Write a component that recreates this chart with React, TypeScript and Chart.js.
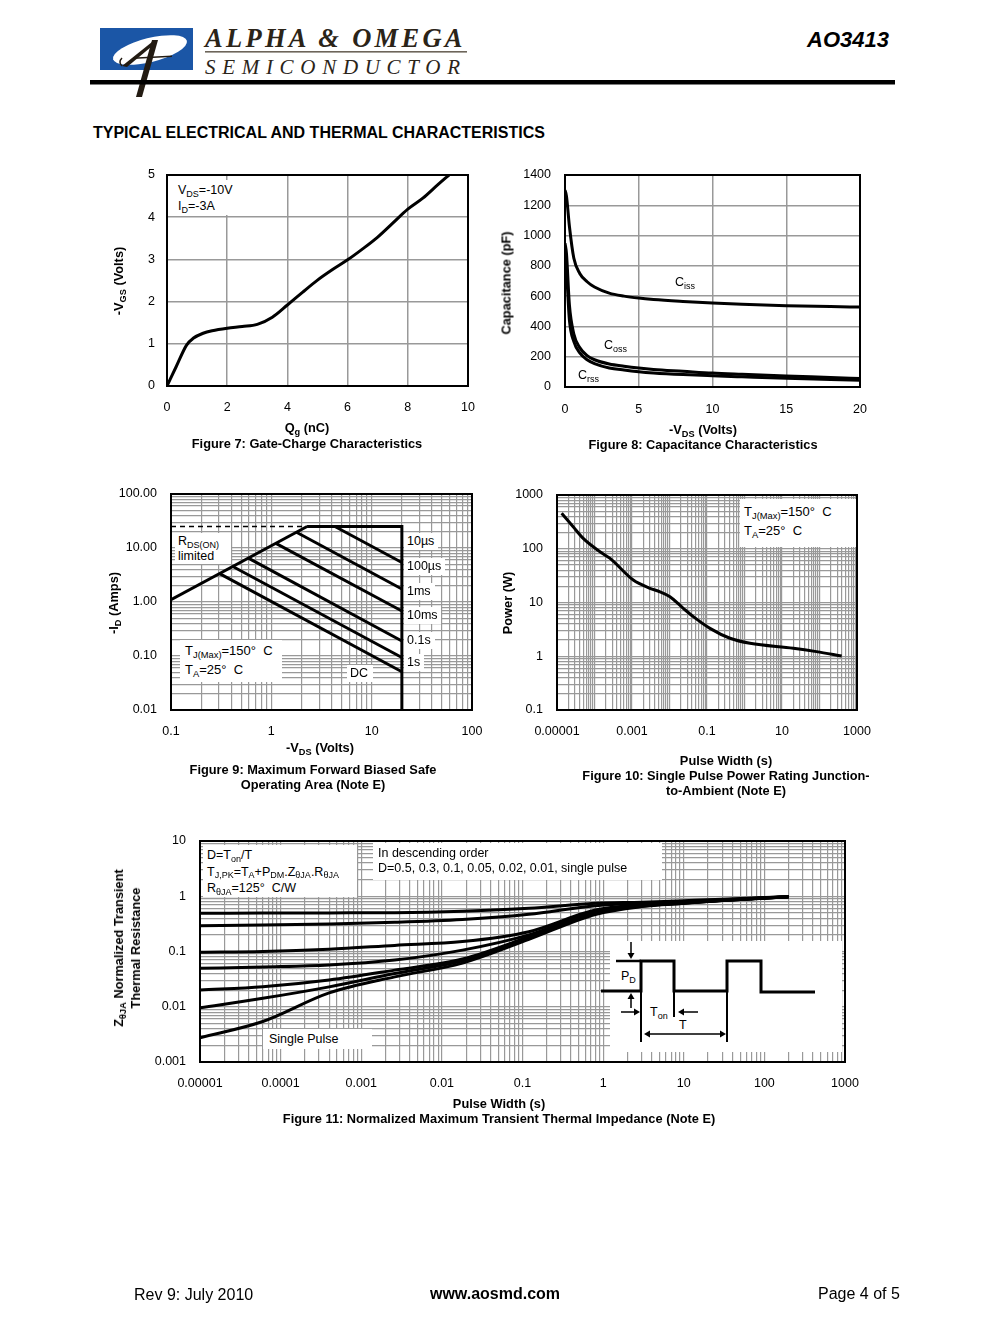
import React, { useEffect, useRef } from 'react';
import { Chart, registerables } from 'chart.js';

Chart.register(...registerables);

const FONT = '"Liberation Sans", Arial, Helvetica, sans-serif';
const SERIF = '"Liberation Serif", "Times New Roman", serif';

// ---------- Figure 7: Gate charge ----------
const gcCharge = [0, 0.3, 0.65, 0.87, 1.2, 1.5, 2.0, 2.5, 3.0, 3.5, 4.0, 4.5, 5.0, 5.5, 6.0, 6.5, 7.0, 7.5, 8.0, 8.5, 9.0, 9.37];
const gcVgs = [0, 0.45, 0.97, 1.13, 1.25, 1.31, 1.37, 1.41, 1.46, 1.63, 1.92, 2.22, 2.51, 2.76, 2.99, 3.25, 3.53, 3.86, 4.19, 4.45, 4.77, 5.0];
const gcXTicks = [0, 2, 4, 6, 8, 10];
const gcYTicks = [0, 1, 2, 3, 4, 5];

// ---------- Figure 8: Capacitance ----------
const capVds = [0, 0.1, 0.3, 0.6, 1, 1.5, 2, 3, 4, 5, 6, 8, 10, 12, 15, 18, 20];
const capCiss = [1300, 1260, 1060, 850, 750, 695, 660, 620, 600, 587, 578, 565, 554, 546, 537, 531, 528];
const capCoss = [950, 880, 540, 350, 260, 207, 180, 152, 137, 125, 116, 104, 92, 84, 73, 63, 56];
const capCrss = [820, 760, 440, 300, 225, 180, 155, 126, 112, 101, 93, 82, 74, 67, 57, 50, 45];
const capXTicks = [0, 5, 10, 15, 20];
const capYTicks = [0, 200, 400, 600, 800, 1000, 1200, 1400];

// ---------- Figure 9: Safe operating area ----------
const soaXTicks = [0.1, 1, 10, 100];
const soaXLabels = ['0.1', '1', '10', '100'];
const soaYTicks = [0.01, 0.1, 1, 10, 100];
const soaYLabels = ['0.01', '0.10', '1.00', '10.00', '100.00'];
const soaRdsLimit = [{ x: 0.1, y: 1.1 }, { x: 2.27, y: 25 }];
const soaRdsDashed = [{ x: 0.1, y: 25 }, { x: 2.27, y: 25 }];
const soaOuterLimit = [{ x: 2.27, y: 25 }, { x: 20, y: 25 }, { x: 20, y: 0.01 }];
const soa10us = [{ x: 4.3, y: 25 }, { x: 20, y: 5.4 }];
const soa100us = [{ x: 1.78, y: 19.6 }, { x: 20, y: 1.74 }];
const soa1ms = [{ x: 1.11, y: 12.2 }, { x: 20, y: 0.68 }];
const soa10ms = [{ x: 0.59, y: 6.5 }, { x: 20, y: 0.19 }];
const soa100ms = [{ x: 0.413, y: 4.55 }, { x: 20, y: 0.094 }];
const soa1s = [{ x: 0.305, y: 3.35 }, { x: 20, y: 0.051 }];

// ---------- Figure 10: Single pulse power ----------
const sppWidth = [1.33e-5, 2.7e-5, 5e-5, 1.4e-4, 2.6e-4, 1.08e-3, 3e-3, 5.6e-3, 0.0103, 0.0233, 0.0432, 0.12, 0.41, 1.4, 20, 83, 390];
const sppPower = [457, 257, 156, 88, 66, 26.2, 18.4, 15.8, 12.8, 7.8, 5.45, 3.3, 2.16, 1.74, 1.41, 1.22, 1.01];
const sppXTicks = [1e-5, 1e-3, 0.1, 10, 1000];
const sppXLabels = ['0.00001', '0.001', '0.1', '10', '1000'];
const sppYTicks = [0.1, 1, 10, 100, 1000];
const sppYLabels = ['0.1', '1', '10', '100', '1000'];

// ---------- Figure 11: Transient thermal impedance ----------
const ztWidth = [0.00001, 0.00006, 0.0004, 0.0026, 0.018, 0.12, 0.8, 3, 10, 30, 100, 200];
const ztD05 = [0.49, 0.495, 0.5, 0.505, 0.537, 0.605, 0.745, 0.78, 0.83, 0.88, 0.95, 0.98];
const ztD03 = [0.293, 0.302, 0.316, 0.338, 0.38, 0.471, 0.675, 0.74, 0.8, 0.86, 0.94, 0.98];
const ztD01 = [0.097, 0.1, 0.11, 0.129, 0.151, 0.228, 0.562, 0.7, 0.77, 0.85, 0.93, 0.98];
const ztD005 = [0.0495, 0.0525, 0.057, 0.07, 0.106, 0.2, 0.525, 0.68, 0.76, 0.845, 0.93, 0.98];
const ztD002 = [0.02, 0.023, 0.0305, 0.046, 0.073, 0.185, 0.513, 0.67, 0.755, 0.84, 0.925, 0.98];
const ztD001 = [0.0096, 0.0142, 0.0229, 0.04, 0.068, 0.178, 0.49, 0.66, 0.75, 0.84, 0.925, 0.98];
const ztSingle = [0.00275, 0.0054, 0.0178, 0.0347, 0.0617, 0.166, 0.468, 0.65, 0.745, 0.835, 0.92, 0.98];
const ztXTicks = [1e-5, 1e-4, 1e-3, 0.01, 0.1, 1, 10, 100, 1000];
const ztXLabels = ['0.00001', '0.0001', '0.001', '0.01', '0.1', '1', '10', '100', '1000'];
const ztYTicks = [0.001, 0.01, 0.1, 1, 10];
const ztYLabels = ['0.001', '0.01', '0.1', '1', '10'];

// ---------- helpers ----------
const AXIS_W = 70;
const AXIS_H = 36;
const PAD_T = 12;
const PAD_R = 34;

function logGrid(minExp: number, maxExp: number): number[] {
  const out: number[] = [];
  for (let e = minExp; e < maxExp; e++) {
    for (let m = 1; m < 10; m++) out.push(Number((m * Math.pow(10, e)).toPrecision(4)));
  }
  out.push(Math.pow(10, maxExp));
  return out;
}

function pts(xs: number[], ys: number[]) {
  return xs.map((x, i) => ({ x, y: ys[i] }));
}

function axisOpts(
  kind: 'x' | 'y',
  type: 'linear' | 'logarithmic',
  min: number,
  max: number,
  gridValues: number[],
  labelValues: number[],
  labelTexts: string[],
  pad: number,
  gridWidth = 1.2,
) {
  return {
    type,
    min,
    max,
    position: kind === 'x' ? 'bottom' : 'left',
    afterBuildTicks: (s: any) => {
      s.ticks = gridValues.map((v) => ({ value: v }));
    },
    afterFit: (s: any) => {
      if (kind === 'x') s.height = AXIS_H;
      else s.width = AXIS_W;
      s.paddingTop = 0;
      s.paddingBottom = 0;
      s.paddingLeft = 0;
      s.paddingRight = 0;
    },
    grid: { color: '#999999', lineWidth: gridWidth, drawTicks: false },
    border: { display: false },
    ticks: {
      autoSkip: false,
      maxRotation: 0,
      minRotation: 0,
      padding: pad,
      color: '#000',
      font: { family: FONT, size: 12.5 },
      callback: (v: any) => {
        const n = Number(v);
        const i = labelValues.findIndex((t) => Math.abs(t - n) <= Math.abs(t) * 1e-6 + 1e-12);
        return i >= 0 ? labelTexts[i] : '';
      },
    },
  };
}

const framePlugin = {
  id: 'frame',
  afterDatasetsDraw(chart: any) {
    const { ctx, chartArea } = chart;
    ctx.save();
    ctx.strokeStyle = '#000';
    ctx.lineWidth = 2;
    ctx.strokeRect(chartArea.left, chartArea.top, chartArea.right - chartArea.left, chartArea.bottom - chartArea.top);
    ctx.restore();
  },
};

function ds(data: any[], width = 3, extra: any = {}) {
  return { data, borderColor: '#000', backgroundColor: '#000', borderWidth: width, pointRadius: 0, fill: false, tension: 0, ...extra };
}
const smooth = { cubicInterpolationMode: 'monotone' };

function baseOptions(x: any, y: any) {
  return {
    responsive: false,
    animation: false,
    events: [],
    layout: { padding: { left: 0, top: PAD_T, right: PAD_R, bottom: 0 } },
    plugins: { legend: { display: false }, tooltip: { enabled: false }, title: { display: false } },
    scales: { x, y },
  };
}

function Plot({ x, y, w, h, make }: { x: number; y: number; w: number; h: number; make: () => any }) {
  const ref = useRef<HTMLCanvasElement>(null);
  const W = w + AXIS_W + PAD_R;
  const H = h + PAD_T + AXIS_H;
  useEffect(() => {
    const cfg = make();
    cfg.plugins = [framePlugin];
    const chart = new Chart(ref.current as HTMLCanvasElement, cfg);
    return () => chart.destroy();
  }, []);
  return (
    <canvas
      ref={ref}
      width={W}
      height={H}
      style={{ position: 'absolute', left: x - AXIS_W, top: y - PAD_T, width: W, height: H }}
    />
  );
}

// ---------- chart configs ----------
const fig7 = () => ({
  type: 'line',
  data: { datasets: [ds(pts(gcCharge, gcVgs), 3, smooth)] },
  options: baseOptions(
    axisOpts('x', 'linear', 0, 10, gcXTicks, gcXTicks, gcXTicks.map(String), 14, 1.5),
    axisOpts('y', 'linear', 0, 5, gcYTicks, gcYTicks, gcYTicks.map(String), 12, 1.5),
  ),
});

const fig8 = () => ({
  type: 'line',
  data: {
    datasets: [
      ds(pts(capVds, capCiss), 3, smooth),
      ds(pts(capVds, capCoss), 3, smooth),
      ds(pts(capVds, capCrss), 3, smooth),
    ],
  },
  options: baseOptions(
    axisOpts('x', 'linear', 0, 20, capXTicks, capXTicks, capXTicks.map(String), 15, 1.5),
    axisOpts('y', 'linear', 0, 1400, capYTicks, capYTicks, capYTicks.map(String), 14, 1.5),
  ),
});

const fig9 = () => ({
  type: 'line',
  data: {
    datasets: [
      ds(soaRdsDashed, 1.5, { borderDash: [5, 4] }),
      ds(soaRdsLimit, 3),
      ds(soaOuterLimit, 3),
      ds(soa10us, 3),
      ds(soa100us, 3),
      ds(soa1ms, 3),
      ds(soa10ms, 3),
      ds(soa100ms, 3),
      ds(soa1s, 3),
    ],
  },
  options: baseOptions(
    axisOpts('x', 'logarithmic', 0.1, 100, logGrid(-1, 2), soaXTicks, soaXLabels, 14),
    axisOpts('y', 'logarithmic', 0.01, 100, logGrid(-2, 2), soaYTicks, soaYLabels, 14),
  ),
});

const fig10 = () => ({
  type: 'line',
  data: { datasets: [ds(pts(sppWidth, sppPower), 3, smooth)] },
  options: baseOptions(
    axisOpts('x', 'logarithmic', 1e-5, 1000, logGrid(-5, 3), sppXTicks, sppXLabels, 14),
    axisOpts('y', 'logarithmic', 0.1, 1000, logGrid(-1, 3), sppYTicks, sppYLabels, 14),
  ),
});

const fig11 = () => ({
  type: 'line',
  data: {
    datasets: [ztD05, ztD03, ztD01, ztD005, ztD002, ztD001, ztSingle].map((s) => ds(pts(ztWidth, s), 3, smooth)),
  },
  options: baseOptions(
    axisOpts('x', 'logarithmic', 1e-5, 1000, logGrid(-5, 3), ztXTicks, ztXLabels, 14),
    axisOpts('y', 'logarithmic', 0.001, 10, logGrid(-3, 1), ztYTicks, ztYLabels, 14),
  ),
});

// ---------- text helpers ----------
const S = ({ children }: { children: any }) => (
  <span style={{ fontSize: '0.72em', position: 'relative', top: '0.32em' }}>{children}</span>
);

function C({ x, y, children, bold = true, size = 12.8, rot = false, style = {} }: any) {
  return (
    <div
      style={{
        position: 'absolute',
        left: x,
        top: y,
        transform: rot ? 'translate(-50%,-50%) rotate(-90deg)' : 'translate(-50%,-50%)',
        whiteSpace: 'nowrap',
        fontWeight: bold ? 'bold' : 'normal',
        fontSize: size,
        lineHeight: '15px',
        textAlign: 'center',
        ...style,
      }}
    >
      {children}
    </div>
  );
}

function L({ x, y, children, size = 12.5, bold = false, style = {} }: any) {
  return (
    <div
      style={{
        position: 'absolute',
        left: x,
        top: y,
        transform: 'translateY(-50%)',
        whiteSpace: 'nowrap',
        fontSize: size,
        fontWeight: bold ? 'bold' : 'normal',
        lineHeight: '15px',
        ...style,
      }}
    >
      {children}
    </div>
  );
}

function Box({ x, y, w, h, pl = 4, pt = 2, lh = 15, size = 12.5, children }: any) {
  return (
    <div
      style={{
        position: 'absolute',
        left: x,
        top: y,
        width: w,
        height: h,
        background: '#fff',
        boxSizing: 'border-box',
        paddingLeft: pl,
        paddingTop: pt,
        lineHeight: lh + 'px',
        fontSize: size,
        whiteSpace: 'nowrap',
      }}
    >
      {children}
    </div>
  );
}

function Tag({ x, y, w, children }: any) {
  return (
    <div
      style={{
        position: 'absolute',
        left: x,
        top: y - 8,
        width: w,
        height: 17,
        lineHeight: '17px',
        background: '#fff',
        paddingLeft: 3,
        boxSizing: 'border-box',
        fontSize: 12.5,
        whiteSpace: 'nowrap',
      }}
    >
      {children}
    </div>
  );
}

export default function App() {
  return (
    <div
      style={{
        position: 'absolute',
        left: 0,
        top: 0,
        width: 991,
        height: 1339,
        background: '#fff',
        overflow: 'hidden',
        fontFamily: FONT,
        color: '#000',
      }}
    >
      {/* Header graphics */}
      <svg width={991} height={110} style={{ position: 'absolute', left: 0, top: 0 }}>
        <defs>
          <clipPath id="logoClip">
            <rect x={100} y={28} width={93} height={42} />
          </clipPath>
        </defs>
        <rect x={100} y={28} width={93} height={42} fill="#1b56a6" />
        <ellipse cx={150} cy={50} rx={38} ry={12} transform="rotate(-14 150 50)" fill="#fff" clipPath="url(#logoClip)" />
        <path d="M122 66 L152 42 L157 42 L127 67 Z" fill="#231b12" />
        <path d="M152 40 L158 40 L142 97 L136 97 Z" fill="#231b12" />
        <path d="M133 57.5 L172 55.5 L172 57 L133 59 Z" fill="#231b12" />
        <path d="M122 66 Q118 62 122 58" stroke="#231b12" strokeWidth={1.5} fill="none" />
        <rect x={205} y={51} width={262} height={1.6} fill="#6d655a" />
        <rect x={90} y={80} width={805} height={4.5} fill="#000" />
      </svg>
      <div
        style={{
          position: 'absolute',
          left: 205,
          top: 23,
          fontFamily: SERIF,
          fontStyle: 'italic',
          fontWeight: 'bold',
          fontSize: 26.5,
          letterSpacing: 3.3,
          color: '#2b2418',
          whiteSpace: 'nowrap',
        }}
      >
        ALPHA &amp; OMEGA
      </div>
      <div
        style={{
          position: 'absolute',
          left: 205,
          top: 55,
          fontFamily: SERIF,
          fontStyle: 'italic',
          fontSize: 21,
          letterSpacing: 6.7,
          color: '#2b2418',
          whiteSpace: 'nowrap',
        }}
      >
        SEMICONDUCTOR
      </div>
      <L x={807} y={40} size={22} bold style={{ fontStyle: 'italic', lineHeight: '24px' }}>
        AO3413
      </L>
      <L x={93} y={132} size={16} bold>
        TYPICAL ELECTRICAL AND THERMAL CHARACTERISTICS
      </L>

      {/* Charts */}
      <Plot x={167} y={175} w={301} h={211} make={fig7} />
      <Plot x={565} y={175} w={295} h={212} make={fig8} />
      <Plot x={171} y={494} w={301} h={216} make={fig9} />
      <Plot x={557} y={495} w={300} h={215} make={fig10} />
      <Plot x={200} y={841} w={645} h={221} make={fig11} />

      {/* Figure 7 text */}
      <Box x={170} y={180} w={65} h={35} pl={8} pt={3}>
        V<S>DS</S>=-10V
        <br />
        I<S>D</S>=-3A
      </Box>
      <C x={119} y={281} rot>
        -V<S>GS</S> (Volts)
      </C>
      <C x={307} y={428}>
        Q<S>g</S> (nC)
      </C>
      <C x={307} y={443}>Figure 7: Gate-Charge Characteristics</C>

      {/* Figure 8 text */}
      <L x={675} y={283}>
        C<S>iss</S>
      </L>
      <L x={604} y={346}>
        C<S>oss</S>
      </L>
      <L x={578} y={376}>
        C<S>rss</S>
      </L>
      <C x={506} y={283} rot>
        Capacitance (pF)
      </C>
      <C x={703} y={430}>
        -V<S>DS</S> (Volts)
      </C>
      <C x={703} y={444}>Figure 8: Capacitance Characteristics</C>

      {/* Figure 9 text */}
      <Box x={175} y={533} w={56} h={31} pl={3} pt={1} lh={14}>
        R<S>DS(ON)</S>
        <br />
        limited
      </Box>
      <Box x={180} y={640} w={102} h={42} pl={5} pt={2} lh={17} size={13}>
        T<S>J(Max)</S>=150° &nbsp;C
        <br />
        T<S>A</S>=25° &nbsp;C
      </Box>
      <Tag x={404} y={541} w={34}>10µs</Tag>
      <Tag x={404} y={566} w={41}>100µs</Tag>
      <Tag x={404} y={591} w={31}>1ms</Tag>
      <Tag x={404} y={615} w={37}>10ms</Tag>
      <Tag x={404} y={640} w={31}>0.1s</Tag>
      <Tag x={404} y={662} w={20}>1s</Tag>
      <Tag x={347} y={673} w={26}>DC</Tag>
      <C x={114} y={603} rot>
        -I<S>D</S> (Amps)
      </C>
      <C x={320} y={748}>
        -V<S>DS</S> (Volts)
      </C>
      <C x={313} y={769}>Figure 9: Maximum Forward Biased Safe</C>
      <C x={313} y={784}>Operating Area (Note E)</C>

      {/* Figure 10 text */}
      <Box x={740} y={499} w={116} h={48} pl={4} pt={4} lh={17} size={13}>
        T<S>J(Max)</S>=150° &nbsp;C
        <br />
        T<S>A</S>=25° &nbsp;C
      </Box>
      <C x={507} y={603} rot>
        Power (W)
      </C>
      <C x={726} y={760}>Pulse Width (s)</C>
      <C x={726} y={775}>Figure 10: Single Pulse Power Rating Junction-</C>
      <C x={726} y={790}>to-Ambient (Note E)</C>

      {/* Figure 11 inset diagram */}
      <svg width={991} height={1339} style={{ position: 'absolute', left: 0, top: 0, pointerEvents: 'none' }}>
        <rect x={610} y={941} width={232} height={111} fill="#fff" />
        <path d="M601 991 H641 V961 H674 V991 H727 V961 H761 V992 H815" stroke="#000" strokeWidth={3} fill="none" />
        <path d="M616 961 H641" stroke="#000" strokeWidth={2.5} fill="none" />
        <path d="M641 991 V1042 M674 991 V1017 M727 991 V1042" stroke="#000" strokeWidth={2} fill="none" />
        <path d="M631 942 V954 M631 1008 V998 M621 1012 H635 M698 1012 H683 M649 1034 H721" stroke="#000" strokeWidth={1.5} fill="none" />
        <path d="M627.5 953 L634.5 953 L631 959 Z" fill="#000" />
        <path d="M627.5 999 L634.5 999 L631 993 Z" fill="#000" />
        <path d="M634 1008.5 L634 1015.5 L640 1012 Z" fill="#000" />
        <path d="M684 1008.5 L684 1015.5 L678 1012 Z" fill="#000" />
        <path d="M650 1030.5 L650 1037.5 L644 1034 Z" fill="#000" />
        <path d="M720 1030.5 L720 1037.5 L726 1034 Z" fill="#000" />
      </svg>
      <L x={621} y={977}>
        P<S>D</S>
      </L>
      <L x={650} y={1013}>
        T<S>on</S>
      </L>
      <L x={679} y={1025}>T</L>

      {/* Figure 11 text */}
      <Box x={203} y={845} w={154} h={52} pl={4} pt={3} lh={15.5}>
        D=T<S>on</S>/T
        <br />
        T<S>J,PK</S>=T<S>A</S>+P<S>DM</S>.Z<S>θJA</S>.R<S>θJA</S>
        <br />
        R<S>θJA</S>=125° &nbsp;C/W
      </Box>
      <Box x={373} y={843} w={289} h={37} pl={5} pt={3} lh={15}>
        In descending order
        <br />
        D=0.5, 0.3, 0.1, 0.05, 0.02, 0.01, single pulse
      </Box>
      <Box x={263} y={1029} w={109} h={20} pl={6} pt={2} lh={16}>
        Single Pulse
      </Box>
      <C x={127} y={948} rot>
        Z<S>θJA</S> Normalized Transient
        <br />
        Thermal Resistance
      </C>
      <C x={499} y={1103}>Pulse Width (s)</C>
      <C x={499} y={1118}>Figure 11: Normalized Maximum Transient Thermal Impedance (Note E)</C>

      {/* Footer */}
      <L x={134} y={1294} size={16}>
        Rev 9: July 2010
      </L>
      <C x={495} y={1293} size={16}>
        www.aosmd.com
      </C>
      <L x={818} y={1293} size={16}>
        Page 4 of 5
      </L>
    </div>
  );
}
